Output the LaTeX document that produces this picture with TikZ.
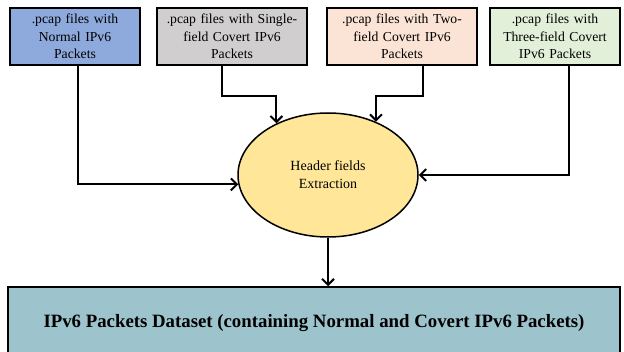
\documentclass[tikz,border=0pt]{standalone}
\usepackage{fontspec}
\setmainfont{Liberation Serif}
\usetikzlibrary{arrows.meta,shapes.geometric}
\definecolor{normalblue}{HTML}{8EA9DB}
\definecolor{singlegrey}{HTML}{D0CECE}
\definecolor{twopeach}{HTML}{FBE4D5}
\definecolor{threegreen}{HTML}{E2EFD9}
\definecolor{extractyellow}{HTML}{FFE699}
\definecolor{datasetteal}{HTML}{9DC3CC}
\begin{document}
\begin{tikzpicture}[x=1pt, y=-1pt,
  pcapbox/.style={draw, line width=1.5pt, align=center, minimum height=57pt,
    inner sep=1pt, font=\fontsize{13.7}{17.5}\selectfont},
  flow/.style={line width=2pt, -{Straight Barb[length=6pt,width=12pt]}}]
  \useasboundingbox (0,0) rectangle (624,352);
  % source files
  \node [pcapbox, fill=normalblue, minimum width=130pt, text width=126pt] (normal) at (75,36.5)
    {.pcap files with\\Normal IPv6\\Packets};
  \node [pcapbox, fill=singlegrey, minimum width=150pt, text width=146pt] (single) at (232,36.5)
    {.pcap files with Single-\\field Covert IPv6\\Packets};
  \node [pcapbox, fill=twopeach, minimum width=150pt, text width=146pt] (two) at (402,36.5)
    {.pcap files with Two-\\field Covert IPv6\\Packets};
  \node [pcapbox, fill=threegreen, minimum width=130pt, text width=126pt] (three) at (555,36.5)
    {.pcap files with\\Three-field Covert\\IPv6 Packets};
  % extraction
  \node [draw, ellipse, line width=1.5pt, fill=extractyellow, minimum width=180pt, minimum height=124pt,
    align=center, font=\fontsize{14}{18}\selectfont] (extract) at (328,175) {Header fields\\Extraction};
  % dataset
  \node [draw, line width=1.5pt, fill=datasetteal, minimum width=612pt, minimum height=72pt,
    font=\bfseries\fontsize{18.8}{22}\selectfont] (dataset) at (314,323)
    {IPv6 Packets Dataset (containing Normal and Covert IPv6 Packets)};
  % connectors
  \draw [flow] ([xshift=3pt]normal.south) |- (extract.186);
  \draw [flow] ([xshift=-10pt]single.south) -- ++(0,30) -| (extract.135);
  \draw [flow] ([xshift=21pt]two.south) -- ++(0,30) -| (extract.48);
  \draw [flow] ([xshift=14pt]three.south) |- (extract.east);
  \draw [flow] (extract.south) -- (extract.south |- dataset.north);
\end{tikzpicture}
\end{document}
